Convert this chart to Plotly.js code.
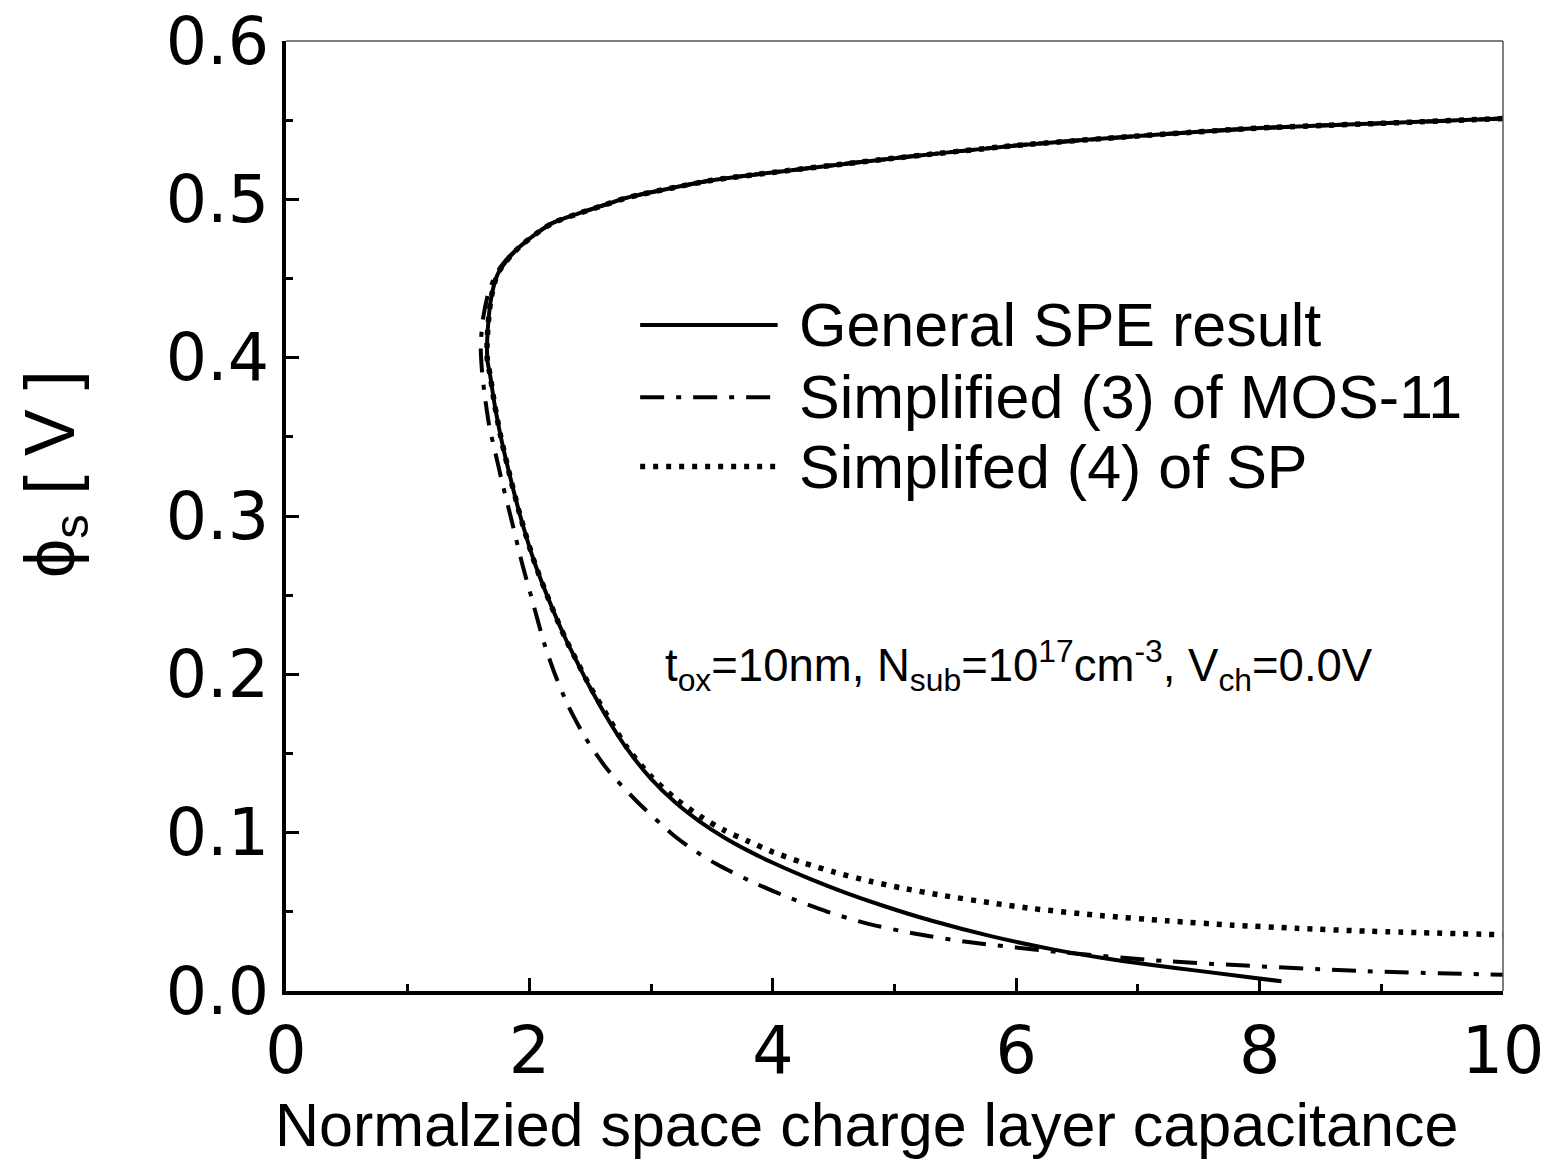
<!DOCTYPE html>
<html>
<head>
<meta charset="utf-8">
<script src="https://cdn.plot.ly/plotly-3.0.1.min.js"></script>
<style>html,body{margin:0;padding:0;background:#fff;}#chart{width:1553px;height:1160px;}</style>
</head>
<body>
<div id="chart"></div>
<script>
// General SPE result (solid)
const speX = [10, 9, 8, 7, 6, 5, 4, 3.5, 3.16, 2.8, 2.6, 2.4, 2.19, 2.05, 1.92, 1.855, 1.80, 1.755, 1.725, 1.70, 1.68, 1.662, 1.652, 1.655, 1.675, 1.715, 1.765, 1.825, 1.925, 2.045, 2.2, 2.3, 2.4, 2.5, 2.65, 2.8, 3.0, 3.2, 3.4, 3.6, 3.8, 4.0, 4.3, 4.6, 4.9, 5.3, 5.8, 6.3, 6.7, 7.1, 7.5, 8.18];
const speY = [0.551, 0.548, 0.545, 0.540, 0.534, 0.526, 0.517, 0.512, 0.507, 0.501, 0.496, 0.491, 0.485, 0.478, 0.470, 0.465, 0.460, 0.455, 0.450, 0.443, 0.435, 0.422, 0.408, 0.398, 0.39, 0.37, 0.35, 0.33, 0.30, 0.27, 0.2395, 0.222, 0.2065, 0.1915, 0.171, 0.1532, 0.134, 0.119, 0.107, 0.097, 0.0885, 0.081, 0.071, 0.062, 0.054, 0.0445, 0.0345, 0.0263, 0.021, 0.0166, 0.0127, 0.0061];

// Simplified (3) of MOS-11 (dash-dot)
const mosX = [10, 9, 8, 7, 6, 5, 4, 3.5, 3.16, 2.8, 2.6, 2.4, 2.19, 2.05, 1.92, 1.85, 1.78, 1.72, 1.66, 1.62, 1.60, 1.61, 1.635, 1.67, 1.72, 1.78, 1.845, 1.94, 2.03, 2.12, 2.21, 2.32, 2.46, 2.64, 2.88, 3.16, 3.33, 3.54, 3.8, 4.1, 4.45, 4.77, 5.15, 5.59, 6.41, 7.24, 8.88, 10];
const mosY = [0.551, 0.548, 0.545, 0.540, 0.534, 0.526, 0.517, 0.512, 0.507, 0.501, 0.496, 0.491, 0.485, 0.478, 0.470, 0.465, 0.459, 0.452, 0.440, 0.425, 0.408, 0.392, 0.375, 0.357, 0.34, 0.32, 0.30, 0.27, 0.245, 0.22, 0.20, 0.18, 0.16, 0.14, 0.12, 0.10, 0.09, 0.08, 0.07, 0.06, 0.05, 0.0427, 0.0365, 0.0311, 0.0242, 0.0188, 0.0125, 0.0103];

// Simplifed (4) of SP (dotted)
const spX = [10, 9, 8, 7, 6, 5, 4, 3.5, 3.16, 2.8, 2.6, 2.4, 2.19, 2.05, 1.92, 1.855, 1.80, 1.755, 1.725, 1.70, 1.68, 1.662, 1.652, 1.655, 1.675, 1.715, 1.765, 1.825, 1.925, 2.045, 2.2, 2.3, 2.4, 2.5, 2.65, 2.8, 3.0, 3.2, 3.4, 3.6, 3.8, 4.0, 4.25, 4.5, 4.8, 5.05, 5.4, 5.8, 6.14, 6.69, 7.24, 7.78, 8.3, 8.88, 10];
const spY = [0.551, 0.548, 0.545, 0.540, 0.534, 0.526, 0.517, 0.512, 0.507, 0.501, 0.496, 0.491, 0.485, 0.478, 0.470, 0.465, 0.460, 0.455, 0.450, 0.443, 0.435, 0.422, 0.408, 0.398, 0.39, 0.37, 0.35, 0.33, 0.30, 0.27, 0.2395, 0.222, 0.2068, 0.192, 0.1725, 0.154, 0.1355, 0.1215, 0.1105, 0.1015, 0.0945, 0.0878, 0.081, 0.0752, 0.0693, 0.0652, 0.0603, 0.0556, 0.052, 0.0477, 0.0443, 0.0416, 0.0396, 0.0378, 0.0355];

const seriesNames = ["General SPE result", "Simplified (3) of MOS-11", "Simplifed (4) of SP"];
const xTickVals = [0, 2, 4, 6, 8, 10];
const yTickVals = [0.0, 0.1, 0.2, 0.3, 0.4, 0.5, 0.6];
const xTitle = "Normalzied space charge layer capacitance";
const yTitle = "ϕ<sub>s</sub> [ V ]";
const condText = "t<sub>ox</sub>=10nm, N<sub>sub</sub>=10<sup>17</sup>cm<sup>-3</sup>, V<sub>ch</sub>=0.0V";

const dashes = ["solid", "24px,12px,5px,12px", "5px,8px"];
const widths = [4, 4, 5.5];

const traces = [
  {x: speX, y: speY, name: seriesNames[0], mode: "lines", line: {color: "#000", width: widths[0], dash: dashes[0], shape: "spline", smoothing: 0.7}, showlegend: false},
  {x: mosX, y: mosY, name: seriesNames[1], mode: "lines", line: {color: "#000", width: widths[1], dash: dashes[1], shape: "spline", smoothing: 0.7}, showlegend: false},
  {x: spX, y: spY, name: seriesNames[2], mode: "lines", line: {color: "#000", width: widths[2], dash: dashes[2], shape: "spline", smoothing: 0.7}, showlegend: false}
];

// legend key (paper coordinates)
const legX0 = 0.291, legX1 = 0.404, legTextX = 0.420;
const legRows = [0.701, 0.625, 0.552];
const shapes = [
  {type: "line", xref: "paper", yref: "paper", x0: 0, x1: 1, y0: 1, y1: 1, line: {color: "#555", width: 1.5}},
  {type: "line", xref: "paper", yref: "paper", x0: 1, x1: 1, y0: 0, y1: 1, line: {color: "#555", width: 1.5}}
];
const annotations = [];
seriesNames.forEach((n, i) => {
  shapes.push({type: "line", xref: "paper", yref: "paper", x0: legX0, x1: legX1, y0: legRows[i], y1: legRows[i],
    line: {color: "#000", width: widths[i], dash: dashes[i]}});
  annotations.push({xref: "paper", yref: "paper", x: legTextX, y: legRows[i], xanchor: "left", yanchor: "middle",
    text: n, showarrow: false, font: {family: "Liberation Sans, Arial, sans-serif", size: 61, color: "#000"}});
});
annotations.push({xref: "paper", yref: "paper", x: 0.602, y: 0.343, xanchor: "center", yanchor: "middle",
  text: condText, showarrow: false, font: {family: "Liberation Sans, Arial, sans-serif", size: 45.5, color: "#000"}});
annotations.push({xref: "paper", yref: "paper", x: 0.4766, y: -0.141, xanchor: "center", yanchor: "middle",
  text: xTitle, showarrow: false, font: {family: "Liberation Sans, Arial, sans-serif", size: 61, color: "#000"}});
annotations.push({xref: "paper", yref: "paper", x: -0.19, y: 0.544, xanchor: "center", yanchor: "middle", textangle: -90,
  text: yTitle, showarrow: false, font: {family: "Liberation Sans, DejaVu Sans, sans-serif", size: 70, color: "#000"}});

const tickFont = {family: "DejaVu Sans, sans-serif", size: 65, color: "#000"};
const layout = {
  width: 1553, height: 1160,
  margin: {l: 286, r: 50, t: 41, b: 169},
  paper_bgcolor: "#fff", plot_bgcolor: "#fff",
  showlegend: false,
  xaxis: {
    range: [0, 10], tickvals: xTickVals, ticktext: xTickVals.map(v => String(v)),
    ticks: "inside", ticklen: 13, tickwidth: 3, tickcolor: "#000",
    minor: {dtick: 1, ticks: "inside", ticklen: 7, tickwidth: 3, tickcolor: "#000"},
    showline: true, linewidth: 4, linecolor: "#000", showgrid: false, zeroline: false,
    tickfont: tickFont, fixedrange: true
  },
  yaxis: {
    range: [0, 0.6], tickvals: yTickVals, ticktext: yTickVals.map(v => v.toFixed(1)),
    ticks: "inside", ticklen: 13, tickwidth: 3, tickcolor: "#000",
    minor: {dtick: 0.05, ticks: "inside", ticklen: 7, tickwidth: 3, tickcolor: "#000"},
    showline: true, linewidth: 4, linecolor: "#000", showgrid: false, zeroline: false,
    tickfont: tickFont, fixedrange: true
  },
  shapes: shapes,
  annotations: annotations
};
Plotly.newPlot("chart", traces, layout, {staticPlot: true, displayModeBar: false});
</script>
</body>
</html>
